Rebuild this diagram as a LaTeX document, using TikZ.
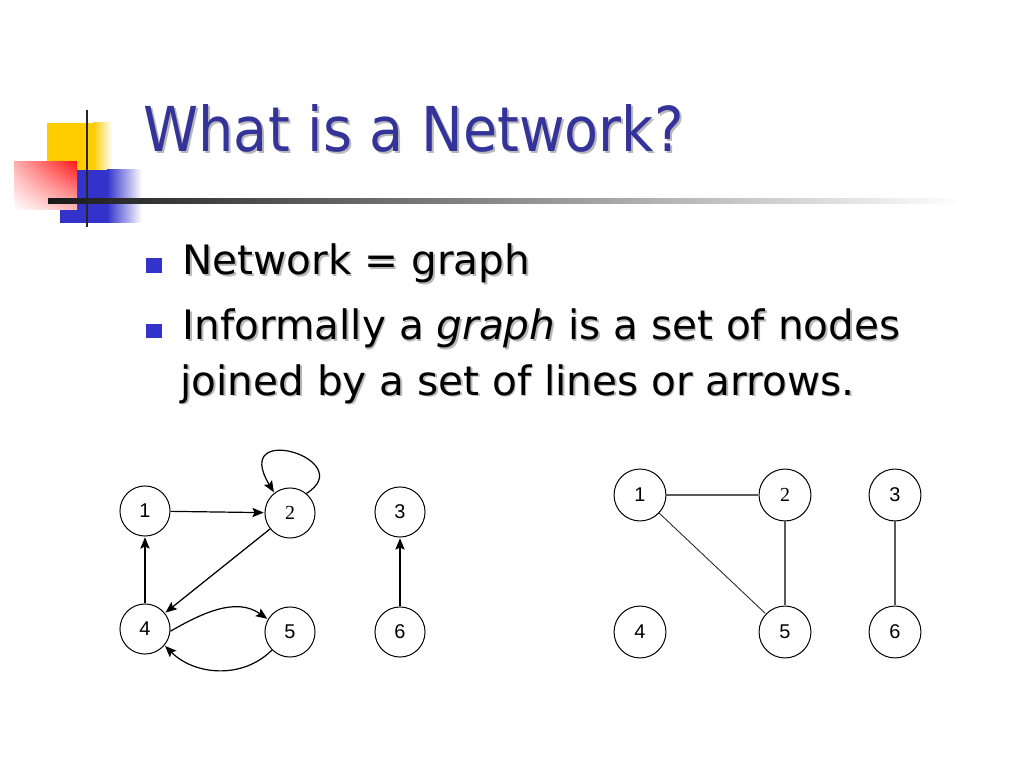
\documentclass[tikz,border=0pt]{standalone}
\usepackage{fontspec}
\setmainfont{DejaVu Sans}
\newfontfamily\titlefont[FakeStretch=0.9]{DejaVu Sans}
\newfontfamily\numfont{Liberation Sans}
\newfontfamily\twofont{Liberation Serif}
\usepackage{tikz}
\usetikzlibrary{positioning}
\usetikzlibrary{arrows.meta}
\usetikzlibrary{automata}
\usetikzlibrary{shadings}
\definecolor{titleblue}{rgb}{0.2,0.2,0.6}
\definecolor{bulletblue}{rgb}{0.2,0.2,0.8}
\definecolor{logoyellow}{rgb}{1,0.8,0}
\definecolor{logored}{rgb}{1,0.1,0.1}
\definecolor{shadowgray}{rgb}{0.72,0.72,0.72}

\begin{document}
\begin{tikzpicture}[
            x = 0.703125pt, y = 0.703125pt, % one unit = one pixel
            shorten > = 0.5pt, % don't touch arrow head to node
            auto,
            line width = 0.85pt % line style
        ]

        \tikzstyle{every state}=[
            draw = black,
            line width = 0.7pt,
            fill = white,
            inner sep = 0pt,
            minimum size = 35.2pt,
            font = \numfont\fontsize{14}{14}\selectfont
        ]
        \tikzstyle{arc}=[-{Stealth[length = 8pt, width = 6.5pt, inset = 1.5pt]}]
        \tikzstyle{line text}=[anchor = base west, inner sep = 0pt,
            font = \fontsize{28.5}{30}\selectfont]
        \tikzstyle{bullet}=[fill = bulletblue, inner sep = 0pt,
            minimum width = 11pt, minimum height = 10.5pt]
        \tikzstyle{plain edge}=[black!65, line width = 0.8pt]

        \useasboundingbox (0,0) rectangle (1024,-768);
        \fill[white] (0,0) rectangle (1024,-768);

        % logo
        \fill[logoyellow] (47,-123) rectangle (94,-172);
        \shade[left color = logoyellow, right color = white] (93,-123) rectangle (112,-172);
        \fill[bulletblue] (60,-170) rectangle (108,-223);
        \shade[left color = bulletblue, right color = white] (107,-170) rectangle (142,-223);
        \shade[upper right = logored, upper left = logored!35, lower right = logored!30,
            lower left = white] (14,-162) rectangle (77,-210);
        \draw[line width = 2pt, black!85] (87,-110) -- (87,-228);
        \shade[left color = black!90, right color = white] (48,-199) rectangle (962,-204);

        % title
        \node[anchor = base west, inner sep = 0pt, text = shadowgray,
            font = \titlefont\fontsize{43.5}{44}\selectfont] (Tshadow) at (145,-154) {What is a Network?};
        \node[anchor = base west, inner sep = 0pt, text = titleblue,
            font = \titlefont\fontsize{43.5}{44}\selectfont] (T) at (143,-152) {What is a Network?};

        % bullet text
        \node[bullet] (B1) at (154,-265.5) {};
        \node[bullet] (B2) at (154,-331) {};
        \node[line text, text = shadowgray] (L1s) at (183.5,-276.5) {Network = graph};
        \node[line text] (L1) at (182,-275) {Network = graph};
        \node[line text, text = shadowgray] (L2s) at (183.5,-341.5) {Informally a \textit{graph} is a set of nodes};
        \node[line text] (L2) at (182,-340) {Informally a \textit{graph} is a set of nodes};
        \node[line text, text = shadowgray] (L3s) at (181.5,-396.5) {joined by a set of lines or arrows.};
        \node[line text] (L3) at (180,-395) {joined by a set of lines or arrows.};

        % directed graph
        \node[state] (D1) at (145,-511) {1};
        \node[state] (D2) at (290,-513) {\twofont 2};
        \node[state] (D3) at (400,-512) {3};
        \node[state] (D4) at (145,-629) {4};
        \node[state] (D5) at (290,-632) {5};
        \node[state] (D6) at (400,-632) {6};

        \path (D1) edge[arc] node {} (D2);
        \path (D4) edge[arc] node {} (D1);
        \path (D2) edge[arc] node {} (D4);
        \path (D6) edge[arc] node {} (D3);
        \path (D4.355) edge[arc, out = 30, in = 145] node {} (D5.150);
        \path (D5.225) edge[arc, out = 225, in = -45] node {} (D4.-40);
        \draw[arc] (D2.50) .. controls (360,-460) and (230,-420) .. (D2.128);

        % undirected graph
        \node[state, minimum size = 36.5pt] (U1) at (640,-495) {1};
        \node[state, minimum size = 36.5pt] (U2) at (785,-495) {\twofont 2};
        \node[state, minimum size = 36.5pt] (U3) at (895,-495) {3};
        \node[state, minimum size = 36.5pt] (U4) at (640,-632) {4};
        \node[state, minimum size = 36.5pt] (U5) at (785,-632) {5};
        \node[state, minimum size = 36.5pt] (U6) at (895,-632) {6};

        \path[plain edge] (U1) edge node {} (U2);
        \path[plain edge, black!85, line width = 0.6pt] (U1) edge node {} (U5);
        \path[plain edge] (U2) edge node {} (U5);
        \path[plain edge] (U3) edge node {} (U6);

  \end{tikzpicture}
\end{document}
